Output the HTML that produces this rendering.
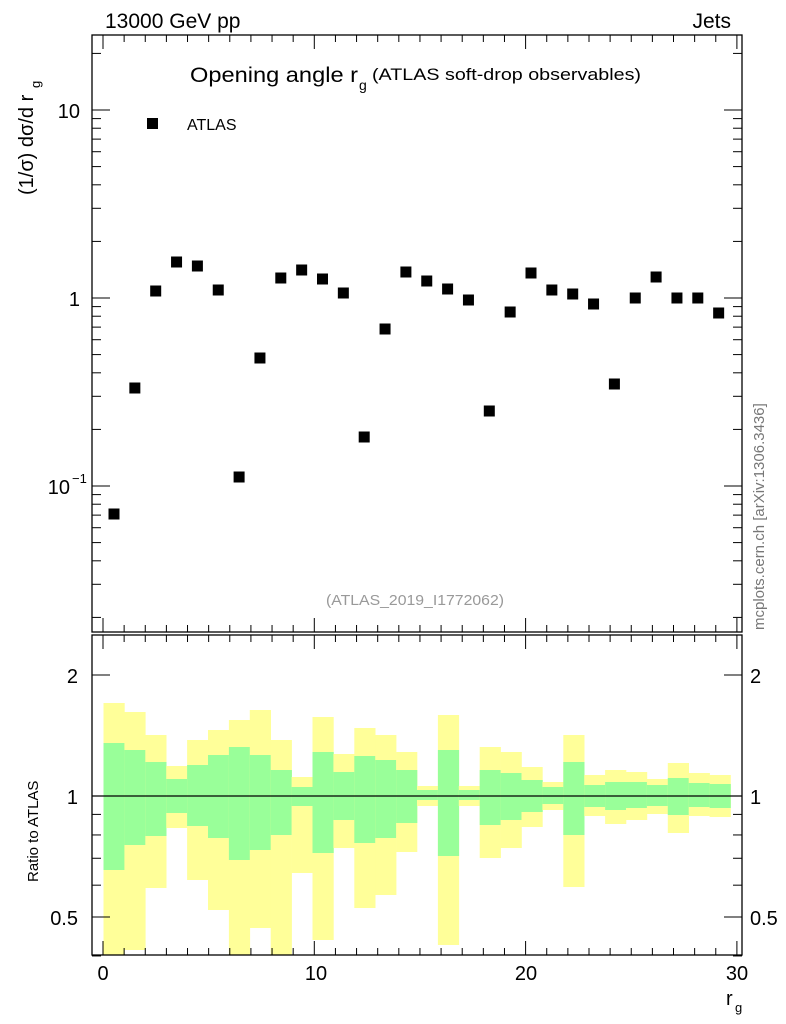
<!DOCTYPE html>
<html><head><meta charset="utf-8"><style>
body{margin:0;background:#fff;}
svg{display:block;font-family:"Liberation Sans",sans-serif;}
</style></head><body>
<svg id="s" width="786" height="1024" xmlns="http://www.w3.org/2000/svg">
<rect width="786" height="1024" fill="#fff"/>
<g id="bands"></g>
<line x1="92" y1="796" x2="742" y2="796" stroke="#000" stroke-width="1.2"/>
<g id="pts"></g>
<g id="ticks" stroke="#000" stroke-width="1"></g>
<rect x="92" y="35" width="650" height="597" fill="none" stroke="#000" stroke-width="1.3"/>
<rect x="92" y="635" width="650" height="320" fill="none" stroke="#000" stroke-width="1.3"/>
<text x="105" y="28" font-size="21">13000 GeV pp</text>
<text x="731" y="28" font-size="21" text-anchor="end">Jets</text>
<text x="190" y="82" font-size="21" textLength="168" lengthAdjust="spacingAndGlyphs">Opening angle r</text>
<text x="359" y="90" font-size="14">g</text>
<text x="372" y="80" font-size="17" textLength="269" lengthAdjust="spacingAndGlyphs">(ATLAS soft-drop observables)</text>
<rect x="147" y="118" width="11" height="11" fill="#000"/>
<text x="187" y="130" font-size="16">ATLAS</text>
<text x="415" y="605" font-size="15" fill="#999" text-anchor="middle" textLength="178" lengthAdjust="spacingAndGlyphs">(ATLAS_2019_I1772062)</text>
<text transform="translate(764,630) rotate(-90)" font-size="15" fill="#777">mcplots.cern.ch [arXiv:1306.3436]</text>
<text transform="translate(33,195) rotate(-90)" font-size="20">(1/σ) dσ/d r</text>
<text transform="translate(40,88) rotate(-90)" font-size="13">g</text>
<text transform="translate(38,882) rotate(-90)" font-size="15">Ratio to ATLAS</text>
<text x="80" y="118" font-size="20" text-anchor="end">10</text>
<text x="80" y="306" font-size="20" text-anchor="end">1</text>
<text x="70" y="494" font-size="20" text-anchor="end">10</text>
<text x="72" y="483" font-size="13">−1</text>
<text x="78" y="683" font-size="20" text-anchor="end">2</text>
<text x="78" y="804" font-size="20" text-anchor="end">1</text>
<text x="78" y="925" font-size="20" text-anchor="end">0.5</text>
<text x="750" y="683" font-size="20">2</text>
<text x="750" y="804" font-size="20">1</text>
<text x="750" y="925" font-size="20">0.5</text>
<text x="103" y="980" font-size="20" text-anchor="middle">0</text>
<text x="316" y="980" font-size="20" text-anchor="middle">10</text>
<text x="526" y="980" font-size="20" text-anchor="middle">20</text>
<text x="737" y="980" font-size="20" text-anchor="middle">30</text>
<text x="726" y="1005" font-size="20">r</text>
<text x="735" y="1012" font-size="13">g</text>
</svg>
<script>
var NS="http://www.w3.org/2000/svg";
function el(p,t,a){var e=document.createElementNS(NS,t);for(var k in a)e.setAttribute(k,a[k]);document.getElementById(p).appendChild(e);}
var py=[514,388,291,262,266,290,477,358,278,270,279,293,437,329,272,281,289,300,411,312,273,290,294,304,384,298,277,298,298,313];
py.forEach(function(y,i){var x=114+i*20.85;el("pts","rect",{x:x-5.5,y:y-5.5,width:11,height:11,fill:"#000"});});
var b=[[703,955,743,870],[712,950,750,845],[735,888,762,836],[766,828,779,813],[740,880,765,826],[730,910,755,838],[720,955,747,860],[710,928,755,850],[740,955,770,835],[777,873,787,806],[717,940,752,853],[754,848,772,820],[728,908,756,843],[735,895,760,838],[752,852,770,823],[786,806,790,800],[715,945,750,856],[786,806,790,800],[747,858,770,825],[752,848,773,820],[767,827,780,812],[782,810,787,804],[735,887,762,835],[775,816,785,807],[770,824,782,810],[772,820,782,808],[779,814,785,806],[763,833,778,815],[773,816,783,807],[775,817,784,808]];
b.forEach(function(r,i){var x=103.5+i*20.9;
el("bands","rect",{x:x,y:r[0],width:21.2,height:r[1]-r[0],fill:"#ffff99"});
el("bands","rect",{x:x,y:r[2],width:21.2,height:r[3]-r[2],fill:"#99ff99"});});
function tk(x1,y1,x2,y2){el("ticks","line",{x1:x1,y1:y1,x2:x2,y2:y2});}
for(var v=0;v<=30;v++){var x=103+v*21.13;var L=(v%10==0)?14:7;
tk(x,632,x,632-L);tk(x,35,x,35+L);tk(x,955,x,955-L);tk(x,635,x,635+L);}
for(var d=-2;d<=1;d++)for(var m=1;m<=9;m++){var lv=d+Math.log10(m);var y=298-lv*188;if(y<35||y>632)continue;var L=m==1?18:9;
tk(92,y,92+L,y);tk(742,y,742-L,y);}
[0.4,0.5,0.6,0.7,0.8,0.9,1,2].forEach(function(v){var y=796-Math.log2(v)*121;var L=(v==0.5||v==1||v==2)?18:9;tk(92,y,92+L,y);tk(742,y,742-L,y);});
</script>
</body></html>
